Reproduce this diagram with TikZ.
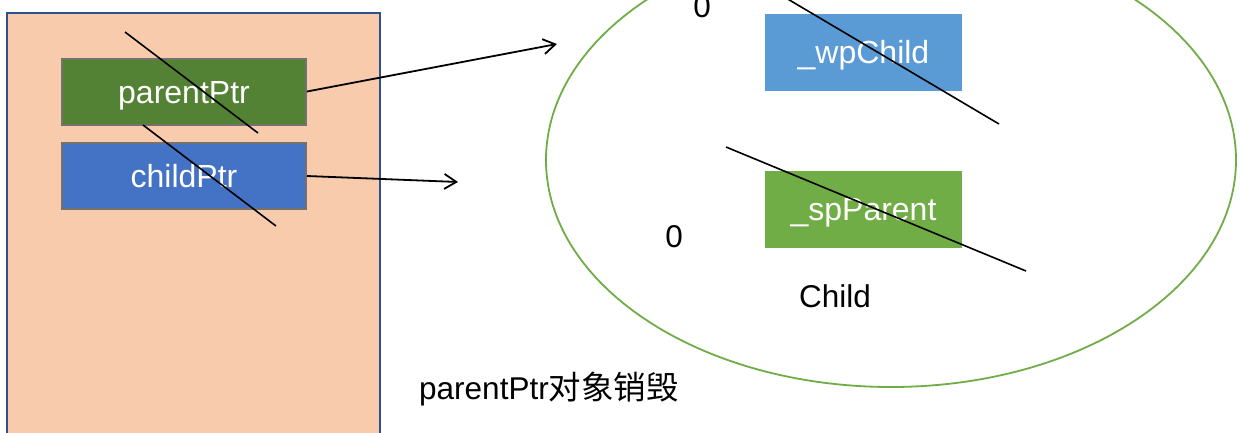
\documentclass[tikz,border=0pt]{standalone}
\usepackage{fontspec}
\setmainfont{Liberation Sans}
\newfontfamily\cjk{Noto Sans CJK SC}
\usetikzlibrary{arrows.meta}
\definecolor{peach}{HTML}{F8CBAD}
\definecolor{frameblue}{HTML}{2F528F}
\definecolor{darkgreen}{HTML}{548235}
\definecolor{midblue}{HTML}{4472C4}
\definecolor{lightblue}{HTML}{5B9BD5}
\definecolor{lightgreen}{HTML}{70AD47}
\definecolor{boxgray}{HTML}{767171}
\tikzset{
  ptrbox/.style={draw=boxgray, line width=2pt, minimum width=244pt, minimum height=66pt,
    inner sep=0pt, text=white, text height=24pt, text depth=1pt,
    font=\fontsize{32}{36}\selectfont},
  fieldbox/.style={minimum width=197pt, minimum height=77pt, inner sep=0pt,
    text=white, text height=24pt, text depth=2pt, font=\fontsize{32}{36}\selectfont},
  plain/.style={inner sep=0pt, font=\fontsize{31.5}{36}\selectfont},
  arr/.style={line width=1.8pt, -{Straight Barb[length=12pt,width=15pt,line width=1.8pt]}},
  strike/.style={line width=1.6pt},
}
\begin{document}
\begin{tikzpicture}[x=1pt,y=-1pt]
\useasboundingbox (0,0) rectangle (1241,432);
\clip (0,0) rectangle (1241,432);
\fill[white] (0,0) rectangle (1241,432);

% stack frame
\draw[fill=peach, draw=frameblue, line width=1.5pt] (7,13) rectangle (380,440);

% the two smart pointers
\node[ptrbox, fill=darkgreen] (pp) at (184,91.5) {parentPtr};
\node[ptrbox, fill=midblue] (cp) at (184,176) {childPtr};

% Child object on the heap
\draw[lightgreen, line width=1.8pt] (891,160) ellipse [x radius=345, y radius=227];
\node[fieldbox, fill=lightblue] (wp) at (863.5,52.5) {\_wpChild};
\node[fieldbox, fill=lightgreen] (sp) at (863.5,209) {\_spParent};

% labels
\node[plain, anchor=base] (zeroA) at (702,17) {0};
\node[plain, anchor=base] (zeroB) at (674,247) {0};
\node[plain, anchor=base] (child) at (835,307) {Child};
\node[plain, anchor=base west] (note) at (419,399) {parentPtr{\cjk\fontsize{32.5}{36}\selectfont 对象销毁}};

% pointer arrows
\coordinate (tipA) at (557,44);
\coordinate (tipB) at (458,182);
\draw[arr] (pp.east) -- (tipA);
\draw[arr] (cp.east) -- (tipB);

% strike-through lines
\coordinate (s1a) at (125,32);  \coordinate (s1b) at (258,133);
\coordinate (s2a) at (143,125); \coordinate (s2b) at (276,226);
\coordinate (s3a) at (786,-2);  \coordinate (s3b) at (999,124);
\coordinate (s4a) at (726,147); \coordinate (s4b) at (1026,271);
\draw[strike] (s1a) -- (s1b);
\draw[strike] (s2a) -- (s2b);
\draw[strike] (s3a) -- (s3b);
\draw[strike] (s4a) -- (s4b);
\end{tikzpicture}
\end{document}
